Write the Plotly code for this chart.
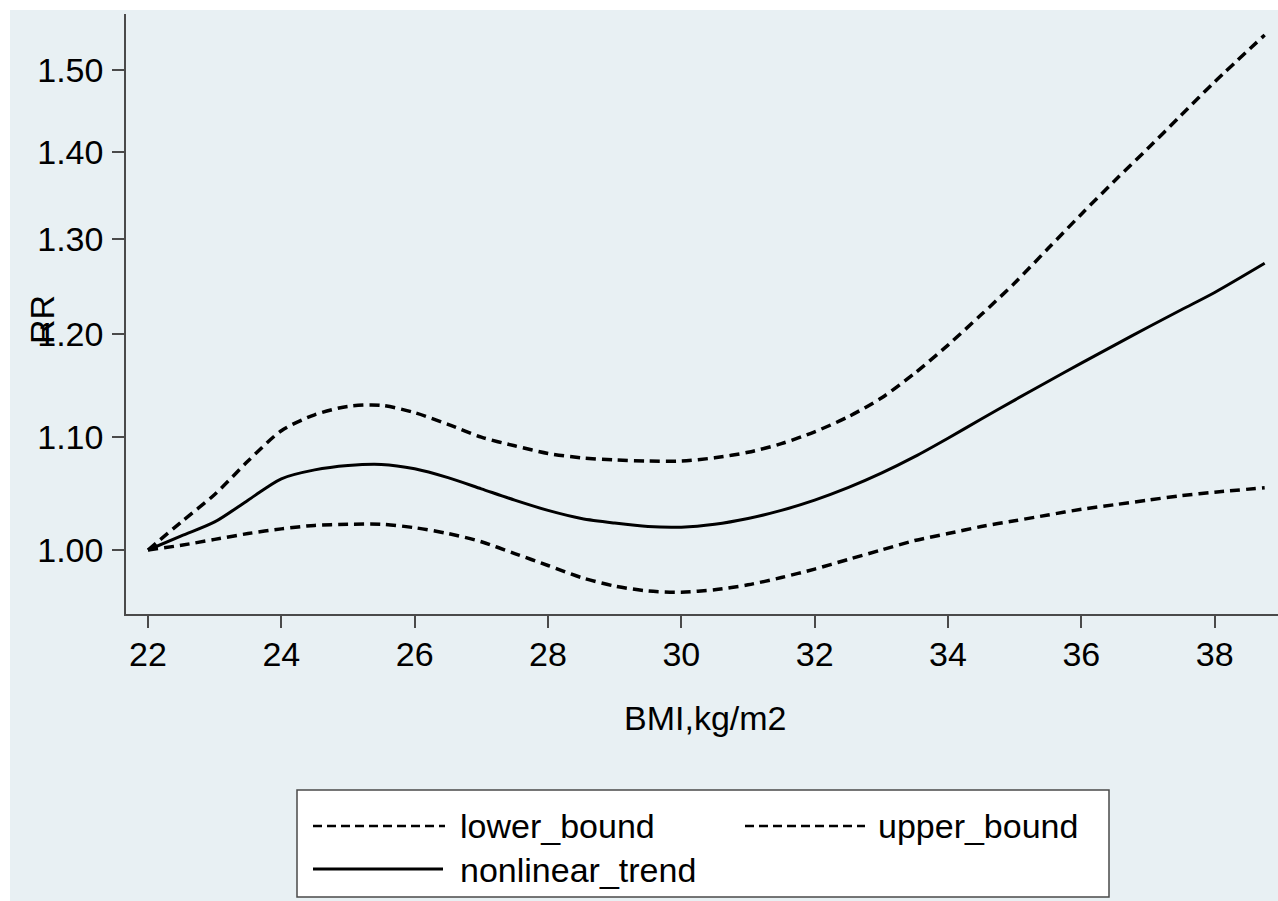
import plotly.graph_objects as go

# ---- data ----
bmi = [22, 22.5, 23, 23.5, 24, 24.5, 25, 25.5, 26, 26.5, 27, 27.5, 28, 28.5, 29, 29.5, 30,
       30.5, 31, 31.5, 32, 32.5, 33, 33.5, 34, 34.5, 35, 35.5, 36, 36.5, 37, 37.5, 38, 38.75]
nonlinear_trend = [1.000, 1.012, 1.024, 1.043, 1.062, 1.070, 1.074, 1.075, 1.071, 1.063, 1.053, 1.043,
                   1.034, 1.027, 1.023, 1.020, 1.0195, 1.022, 1.027, 1.034, 1.043, 1.054, 1.067, 1.082,
                   1.099, 1.117, 1.135, 1.153, 1.171, 1.189, 1.207, 1.225, 1.243, 1.274]
lower_bound = [1.000, 1.004, 1.009, 1.014, 1.018, 1.021, 1.022, 1.022, 1.019, 1.014, 1.007, 0.997,
               0.987, 0.977, 0.970, 0.966, 0.965, 0.967, 0.971, 0.977, 0.984, 0.992, 1.000, 1.008,
               1.014, 1.020, 1.025, 1.030, 1.035, 1.039, 1.043, 1.047, 1.050, 1.054]
upper_bound = [1.000, 1.024, 1.048, 1.078, 1.106, 1.121, 1.129, 1.130, 1.123, 1.112, 1.100, 1.092,
               1.085, 1.081, 1.079, 1.078, 1.078, 1.081, 1.086, 1.094, 1.105, 1.119, 1.137, 1.161,
               1.189, 1.220, 1.253, 1.290, 1.328, 1.366, 1.404, 1.444, 1.485, 1.545]
x_ticks = [22, 24, 26, 28, 30, 32, 34, 36, 38]
y_ticks = [1.00, 1.10, 1.20, 1.30, 1.40, 1.50]
y_tick_labels = ["1.00", "1.10", "1.20", "1.30", "1.40", "1.50"]

W, H = 1278, 901
ML, MR, MT, MB = 126, 0, 14, 287
PW, PH = W - ML - MR, H - MT - MB

def px(x):
    return (x - ML) / PW

def py(y):
    return (H - MB - y) / PH

BG = "#E8F0F3"
AX = "#4a4a4a"
FONT = "Liberation Sans, Arial, sans-serif"
FS = 34

fig = go.Figure()
fig.add_trace(go.Scatter(x=bmi, y=lower_bound, mode="lines", name="lower_bound",
                         line=dict(color="black", width=3.5, dash="10px,6px", shape="spline", smoothing=0.8),
                         showlegend=False))
fig.add_trace(go.Scatter(x=bmi, y=upper_bound, mode="lines", name="upper_bound",
                         line=dict(color="black", width=3.5, dash="10px,6px", shape="spline", smoothing=0.8),
                         showlegend=False))
fig.add_trace(go.Scatter(x=bmi, y=nonlinear_trend, mode="lines", name="nonlinear_trend",
                         line=dict(color="black", width=3, shape="spline", smoothing=0.8),
                         showlegend=False))

shapes = [
    # outer tinted background (white strip at top and left)
    dict(type="rect", xref="paper", yref="paper", x0=px(10), x1=px(W + 5), y0=py(H + 5), y1=py(10),
         fillcolor=BG, line=dict(width=0), layer="below"),
    # legend box
    dict(type="rect", xref="paper", yref="paper", x0=px(297), x1=px(1109), y0=py(897), y1=py(790),
         fillcolor="white", line=dict(color=AX, width=1.5)),
    dict(type="line", xref="paper", yref="paper", x0=px(313), x1=px(445), y0=py(826), y1=py(826),
         line=dict(color="black", width=2.5, dash="9px,5px")),
    dict(type="line", xref="paper", yref="paper", x0=px(745), x1=px(865), y0=py(826), y1=py(826),
         line=dict(color="black", width=2.5, dash="9px,5px")),
    dict(type="line", xref="paper", yref="paper", x0=px(313), x1=px(443), y0=py(869), y1=py(869),
         line=dict(color="black", width=3)),
]

annotations = [
    dict(text="RR", xref="paper", yref="paper", x=px(42), y=py(320), textangle=-90,
         showarrow=False, font=dict(size=FS, color="black", family=FONT), xanchor="center", yanchor="middle"),
    dict(text="BMI,kg/m2", xref="paper", yref="paper", x=px(705), y=py(718),
         showarrow=False, font=dict(size=FS, color="black", family=FONT), xanchor="center", yanchor="middle"),
    dict(text="lower_bound", xref="paper", yref="paper", x=px(458), y=py(826),
         showarrow=False, font=dict(size=FS, color="black", family=FONT), xanchor="left", yanchor="middle"),
    dict(text="upper_bound", xref="paper", yref="paper", x=px(876), y=py(826),
         showarrow=False, font=dict(size=FS, color="black", family=FONT), xanchor="left", yanchor="middle"),
    dict(text="nonlinear_trend", xref="paper", yref="paper", x=px(458), y=py(870),
         showarrow=False, font=dict(size=FS, color="black", family=FONT), xanchor="left", yanchor="middle"),
]

fig.update_layout(
    width=W, height=H,
    margin=dict(l=ML, r=MR, t=MT, b=MB, pad=0),
    paper_bgcolor="white", plot_bgcolor=BG,
    font=dict(family=FONT, size=FS, color="black"),
    showlegend=False,
    shapes=shapes, annotations=annotations,
    xaxis=dict(range=[21.67, 38.95], tickvals=x_ticks, ticks="outside", ticklen=12, tickwidth=1.5,
               tickcolor=AX, showline=True, linecolor=AX, linewidth=1.5, showgrid=False, zeroline=False,
               tickfont=dict(size=FS, color="black"), ticklabelstandoff=-3),
    yaxis=dict(type="log", range=[-0.02348, 0.19663], tickvals=y_ticks, ticktext=y_tick_labels,
               ticks="outside", ticklen=12, tickwidth=1.5, tickcolor=AX, showline=True, linecolor=AX,
               linewidth=1.5, showgrid=False, zeroline=False, tickfont=dict(size=FS, color="black"),
               ticklabelstandoff=2),
)

fig.write_html("out.html")
